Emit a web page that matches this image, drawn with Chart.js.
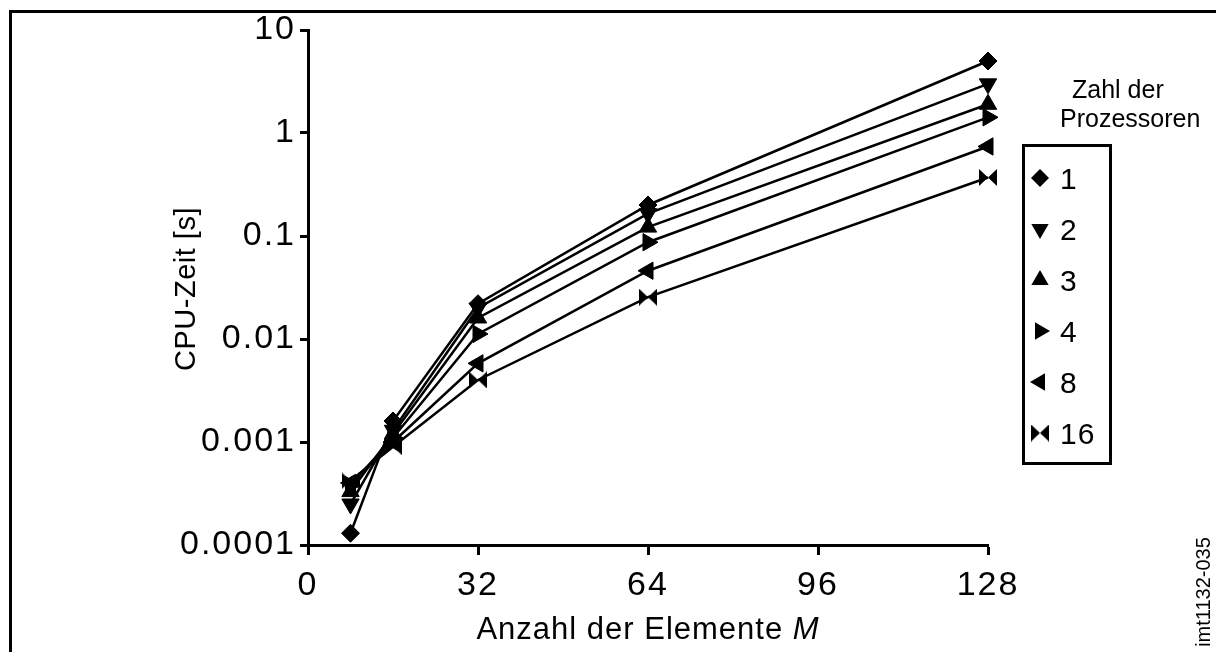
<!DOCTYPE html>
<html>
<head>
<meta charset="utf-8">
<script src="https://cdn.jsdelivr.net/npm/chart.js@4.4.1/dist/chart.umd.min.js"></script>
<style>
  html, body { margin: 0; padding: 0; background: #fff; }
  #box { position: relative; width: 1216px; height: 652px; }
</style>
</head>
<body>
<div id="box"><canvas id="cpuChart"></canvas></div>
<script>
// Daten
const elementeM = [8, 16, 32, 64, 128];
const zeitP1 = [0.00013, 0.0016, 0.022, 0.2, 5.0];
const zeitP2 = [0.00025, 0.0013, 0.02, 0.165, 3.0];
const zeitP3 = [0.00033, 0.0012, 0.016, 0.122, 1.9];
const zeitP4 = [0.00038, 0.0011, 0.0112, 0.087, 1.42];
const zeitP8 = [0.0004, 0.001, 0.0058, 0.046, 0.74];
const zeitP16 = [0.00042, 0.0009, 0.004, 0.0255, 0.37];

const prozessoren = ['1', '2', '3', '4', '8', '16'];
const xTicks = [0, 32, 64, 96, 128];
const yTicks = [0.0001, 0.001, 0.01, 0.1, 1, 10];
const yTickLabels = ['0.0001', '0.001', '0.01', '0.1', '1', '10'];

const FONT = '"Liberation Sans", Arial, sans-serif';

// Fliege-Symbol fuer 16 Prozessoren
function makeBowtie() {
    const c = document.createElement('canvas');
    c.width = 18;
    c.height = 17;
    const g = c.getContext('2d');
    g.fillStyle = '#000';
    g.beginPath();
    g.moveTo(0, 0); g.lineTo(9, 8.5); g.lineTo(0, 17); g.closePath();
    g.moveTo(18, 0); g.lineTo(9, 8.5); g.lineTo(18, 17); g.closePath();
    g.fill();
    return c;
}
const bowtie = makeBowtie();

// Symbole je Serie
const symbole = [
    { style: 'rectRot', rot: 0, r: 9 },
    { style: 'triangle', rot: 180, r: 10 },
    { style: 'triangle', rot: 0, r: 10 },
    { style: 'triangle', rot: 90, r: 10 },
    { style: 'triangle', rot: 270, r: 10 },
    { style: bowtie, rot: 0, r: 9 }
];

const serien = [zeitP1, zeitP2, zeitP3, zeitP4, zeitP8, zeitP16];

function toPoints(values) {
    return elementeM.map((m, i) => ({ x: m, y: values[i] }));
}

const datasets = serien.map((s, i) => ({
    label: prozessoren[i],
    data: toPoints(s),
    showLine: true,
    borderColor: '#000',
    backgroundColor: '#000',
    borderWidth: 2.5,
    pointStyle: symbole[i].style,
    pointRotation: symbole[i].rot,
    pointRadius: symbole[i].r,
    pointHoverRadius: symbole[i].r,
    pointBorderWidth: 1,
    pointBackgroundColor: '#000',
    pointBorderColor: '#000',
    clip: false
}));

// Text mit Zeichenabstand zeichnen
function drawText(ctx, str, x, y, size, spacing, align, italic) {
    ctx.save();
    ctx.font = (italic ? 'italic ' : '') + size + 'px ' + FONT;
    ctx.letterSpacing = spacing + 'px';
    ctx.fillStyle = '#000';
    ctx.textAlign = align || 'left';
    ctx.textBaseline = 'alphabetic';
    ctx.fillText(str, x, y);
    ctx.restore();
}

function drawMarker(ctx, sym, x, y) {
    ctx.save();
    ctx.fillStyle = '#000';
    if (typeof sym.style !== 'string') {
        ctx.drawImage(sym.style, x - sym.style.width / 2, y - sym.style.height / 2);
        ctx.restore();
        return;
    }
    ctx.translate(x, y);
    ctx.beginPath();
    if (sym.style === 'rectRot') {
        ctx.moveTo(0, -sym.r); ctx.lineTo(sym.r, 0); ctx.lineTo(0, sym.r); ctx.lineTo(-sym.r, 0);
    } else {
        let rad = sym.rot * Math.PI / 180;
        for (let k = 0; k < 3; k++) {
            const px = Math.sin(rad) * sym.r, py = -Math.cos(rad) * sym.r;
            if (k === 0) ctx.moveTo(px, py); else ctx.lineTo(px, py);
            rad += 2 * Math.PI / 3;
        }
    }
    ctx.closePath();
    ctx.fill();
    ctx.restore();
}

// Plugin fuer Rahmen, Achsentitel, Legende und Beschriftung
const extras = {
    id: 'extras',
    beforeDraw(chart) {
        chart.ctx.letterSpacing = '2px';
    },
    afterDraw(chart) {
        const ctx = chart.ctx;

        // Rahmen
        ctx.save();
        ctx.strokeStyle = '#000';
        ctx.lineWidth = 3;
        ctx.beginPath();
        ctx.moveTo(1216, 11.5);
        ctx.lineTo(10.5, 11.5);
        ctx.lineTo(10.5, 652);
        ctx.stroke();
        ctx.restore();

        // y-Achsentitel
        ctx.save();
        ctx.translate(195, 289);
        ctx.rotate(-Math.PI / 2);
        drawText(ctx, 'CPU-Zeit [s]', 0, 0, 29, 0.5, 'center');
        ctx.restore();

        // x-Achsentitel mit kursivem M
        ctx.save();
        ctx.letterSpacing = '1px';
        ctx.font = '31px ' + FONT;
        const w1 = ctx.measureText('Anzahl der Elemente ').width;
        ctx.font = 'italic 31px ' + FONT;
        const w2 = ctx.measureText('M').width;
        ctx.restore();
        const x0 = 648 - (w1 + w2) / 2;
        drawText(ctx, 'Anzahl der Elemente ', x0, 639, 31, 1, 'left');
        drawText(ctx, 'M', x0 + w1, 639, 31, 1, 'left', true);

        // Legendentitel
        drawText(ctx, 'Zahl der', 1072, 98, 25, 0, 'left');
        drawText(ctx, 'Prozessoren', 1060, 127, 25, 0, 'left');

        // Legendenkasten
        ctx.save();
        ctx.strokeStyle = '#000';
        ctx.lineWidth = 3;
        ctx.strokeRect(1023.5, 145.5, 87, 318);
        ctx.restore();

        prozessoren.forEach((p, i) => {
            const y = 178 + i * 51;
            drawMarker(ctx, symbole[i], 1040, y);
            drawText(ctx, p, 1060, y + 11, 30, 1, 'left');
        });

        // Bildnummer
        ctx.save();
        ctx.translate(1210, 592);
        ctx.rotate(-Math.PI / 2);
        drawText(ctx, 'imt1132-035', 0, 0, 20, 0, 'center');
        ctx.restore();
    }
};

const ctx = document.getElementById('cpuChart').getContext('2d');
const cpuChart = new Chart(ctx, {
    type: 'scatter',
    data: { datasets: datasets },
    options: {
        responsive: true,
        maintainAspectRatio: false,
        animation: false,
        layout: { padding: { top: 30, right: 228, left: 0, bottom: 0 } },
        plugins: {
            legend: { display: false },
            tooltip: { enabled: false }
        },
        scales: {
            x: {
                type: 'linear',
                min: 0,
                max: 128,
                afterBuildTicks: (scale) => { scale.ticks = xTicks.map(v => ({ value: v })); },
                afterFit: (scale) => { scale.height = 107; },
                ticks: {
                    color: '#000',
                    font: { family: FONT, size: 34 },
                    padding: 10,
                    maxRotation: 0
                },
                grid: {
                    drawOnChartArea: false,
                    drawTicks: true,
                    tickLength: 10,
                    tickWidth: 3,
                    tickColor: '#000'
                },
                border: { display: true, color: '#000', width: 3 }
            },
            y: {
                type: 'logarithmic',
                min: 0.0001,
                max: 10,
                afterBuildTicks: (scale) => { scale.ticks = yTicks.map(v => ({ value: v })); },
                afterFit: (scale) => { scale.width = 308; },
                ticks: {
                    color: '#000',
                    font: { family: FONT, size: 34 },
                    padding: 4,
                    callback: (value) => {
                        const i = yTicks.findIndex(t => Math.abs(t - value) / t < 1e-6);
                        return i >= 0 ? yTickLabels[i] : '';
                    }
                },
                grid: {
                    drawOnChartArea: false,
                    drawTicks: true,
                    tickLength: 8,
                    tickWidth: 3,
                    tickColor: '#000'
                },
                border: { display: true, color: '#000', width: 3 }
            }
        }
    },
    plugins: [extras]
});
</script>
</body>
</html>
